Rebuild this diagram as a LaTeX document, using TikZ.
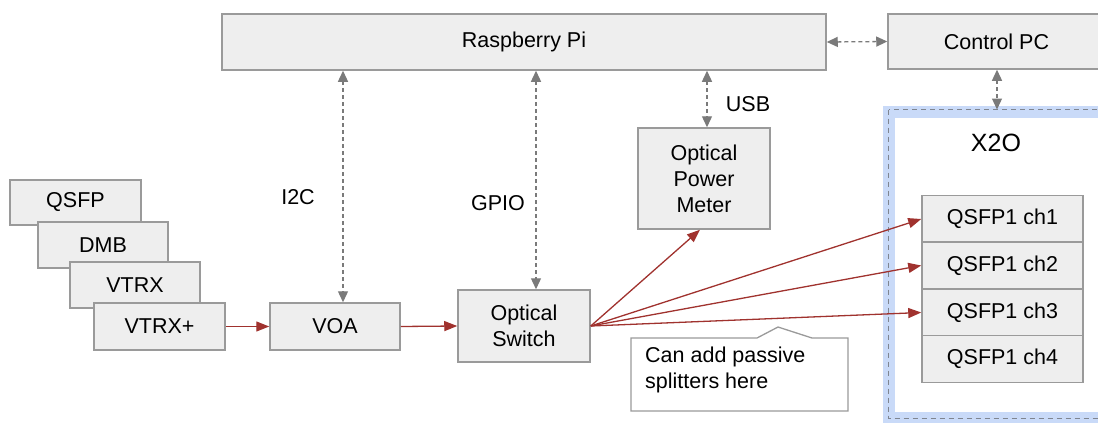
\documentclass[tikz,border=0pt]{standalone}
\usepackage{fontspec}
\setmainfont{Liberation Sans}
\usetikzlibrary{arrows.meta}
\definecolor{boxfill}{HTML}{EEEEEE}
\definecolor{boxline}{HTML}{9A9A9A}
\definecolor{redarr}{HTML}{A0322E}
\definecolor{grayarr}{HTML}{7A7A7A}
\definecolor{xblue}{HTML}{C9DAF8}
\definecolor{xdash}{HTML}{7F8590}
\tikzset{
  blk/.style={draw=boxline, fill=boxfill, line width=1.5pt, align=center, inner sep=0pt,
    font=\fontsize{21.5}{26}\selectfont},
  lbl/.style={font=\fontsize{21.5}{26}\selectfont, inner sep=0pt},
  rarr/.style={draw=redarr, line width=1.3pt, -{Triangle[length=13pt,width=10pt]}},
  darr/.style={draw=grayarr, line width=1.3pt, dash pattern=on 4pt off 3pt,
    {Triangle[length=11pt,width=10pt]}-{Triangle[length=11pt,width=10pt]}},
}
\begin{document}
\begin{tikzpicture}[x=1pt,y=-1pt]
\useasboundingbox (0,0) rectangle (1098,423);
\clip (0,0) rectangle (1098,423);
% X2O container
\draw[xblue, line width=12pt] (889,111.5) rectangle (1120,418);
\draw[xdash, line width=1.3pt, dash pattern=on 5pt off 4pt] (888.5,109.5) rectangle (1120,418.5);
\coordinate (x2otop) at (997,109.5);
\node[lbl, font=\fontsize{25}{30}\selectfont] (x2o) at (996,143) {X2O};
% top row
\node[blk, minimum width=604pt, minimum height=56pt] (rpi) at (524,42) {Raspberry Pi};
\node[blk, minimum width=217pt, minimum height=55pt] (cpc) at (996.5,41.5) {Control PC};
% left stack
\node[blk, minimum width=131pt, minimum height=45pt] (qsfp) at (75.5,202.5) {QSFP};
\node[blk, minimum width=130pt, minimum height=46pt] (dmb) at (103,245) {DMB};
\node[blk, minimum width=130pt, minimum height=46pt] (vtrx) at (135,285) {VTRX};
\node[blk, minimum width=131pt, minimum height=47pt] (vtrxp) at (159.5,326.5) {VTRX+};
% chain
\node[blk, minimum width=130pt, minimum height=47pt] (voa) at (335,326.5) {VOA};
\node[blk, minimum width=132pt, minimum height=72pt] (sw) at (524,326) {Optical\\Switch};
\node[blk, minimum width=132pt, minimum height=101pt] (opm) at (704,178.5) {Optical\\Power\\Meter};
% channels
\node[blk, minimum width=161pt, minimum height=47pt] (ch1) at (1002.5,219) {QSFP1 ch1};
\node[blk, minimum width=161pt, minimum height=47pt] (ch2) at (1002.5,265.5) {QSFP1 ch2};
\node[blk, minimum width=161pt, minimum height=47pt] (ch3) at (1002.5,312.5) {QSFP1 ch3};
\node[blk, minimum width=161pt, minimum height=47pt] (ch4) at (1002.5,359) {QSFP1 ch4};
% dashed links
\coordinate (i2cx) at (343,0);
\coordinate (gpiox) at (536,0);
\coordinate (usbx) at (707,0);
\draw[darr] (rpi.east) -- (cpc.west);
\draw[darr] (cpc.south -| x2otop) -- (x2otop);
\draw[darr] (rpi.south -| i2cx) -- (voa.north -| i2cx);
\draw[darr] (rpi.south -| gpiox) -- (sw.north -| gpiox);
\draw[darr] (rpi.south -| usbx) -- (opm.north -| usbx);
\node[lbl] (i2c) at (298,197) {I2C};
\node[lbl] (gpio) at (498,203) {GPIO};
\node[lbl] (usb) at (748,104) {USB};
% red links
\draw[rarr] (vtrxp.east) -- (voa.west);
\draw[rarr] (voa.east) -- (sw.west);
\draw[rarr] (sw.east) -- ([xshift=-4pt]opm.south);
\draw[rarr] (sw.east) -- (ch1.west);
\draw[rarr] (sw.east) -- (ch2.west);
\draw[rarr] (sw.east) -- (ch3.west);
% callout
\draw[draw=boxline, fill=white, line width=1.3pt] (631,338) -- (757,338) -- (778,327) -- (812,338) -- (848,338) -- (848,411) -- (631,411) -- cycle;
\node[lbl, anchor=north west, align=left] (note) at (645,347) {Can add passive\\splitters here};
\end{tikzpicture}
\end{document}
